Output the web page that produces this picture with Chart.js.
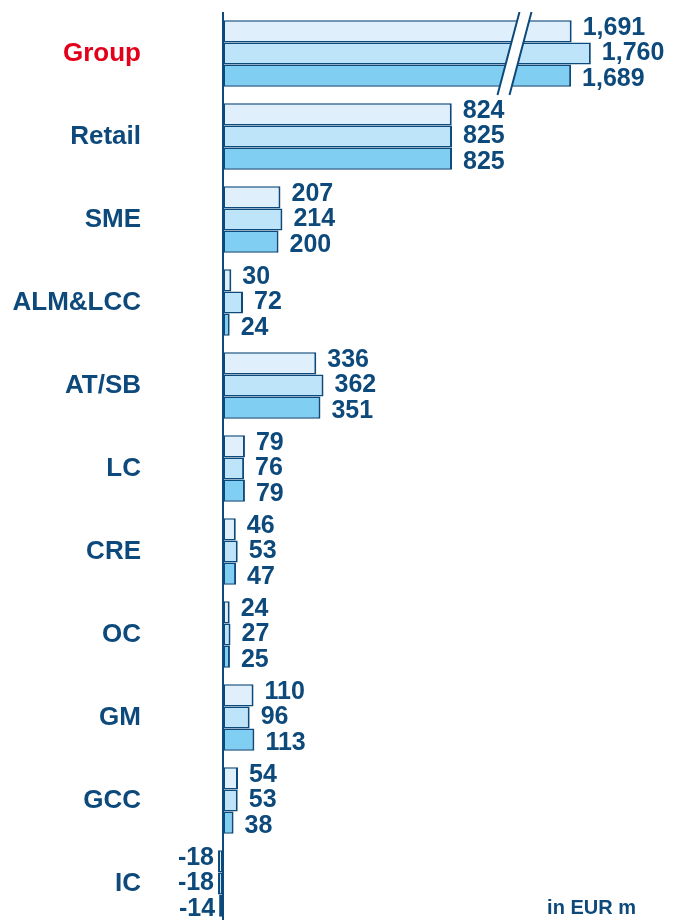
<!DOCTYPE html>
<html>
<head>
<meta charset="utf-8">
<script src="https://cdn.jsdelivr.net/npm/chart.js@4.4.1/dist/chart.umd.min.js"></script>
<style>
  html, body { margin: 0; padding: 0; background: #fff; overflow: hidden; }
  #wrap { position: relative; width: 673px; height: 926px; }
</style>
</head>
<body>
<div id="wrap"><canvas id="chart"></canvas></div>
<script>
const categories = ["Group", "Retail", "SME", "ALM&LCC", "AT/SB", "LC", "CRE", "OC", "GM", "GCC", "IC"];
const series1 = [1691, 824, 207, 30, 336, 79, 46, 24, 110, 54, -18];
const series2 = [1760, 825, 214, 72, 362, 76, 53, 27, 96, 53, -18];
const series3 = [1689, 825, 200, 24, 351, 79, 47, 25, 113, 38, -14];

const NAVY = "#0d4a7b";
const RED = "#e2001a";
const FONT = "'Liberation Sans', Arial, sans-serif";

// axis break: values past BREAK_FROM are pulled left by BREAK_GAP
const BREAK_FROM = 1050;
const BREAK_GAP = 435;

function squeeze(v) {
  if (v <= BREAK_FROM) return v;
  if (v <= BREAK_FROM + BREAK_GAP) return BREAK_FROM;
  return v - BREAK_GAP;
}

class BrokenScale extends Chart.LinearScale {
  getPixelForValue(v) {
    return super.getPixelForValue(squeeze(v));
  }
}
BrokenScale.id = "broken";
BrokenScale.defaults = Chart.LinearScale.defaults;
Chart.register(BrokenScale);

const fmt = (v) => v.toLocaleString("en-US");
const labelShift = [-3, 0, 3];

// zero line, break marks, value labels and unit note
const extras = {
  id: "extras",
  afterDatasetsDraw(chart) {
    const { ctx, scales: { x, y } } = chart;
    const x0 = x.getPixelForValue(0);

    ctx.save();
    ctx.strokeStyle = NAVY;
    ctx.lineWidth = 2;
    ctx.beginPath();
    ctx.moveTo(x0, chart.chartArea.top);
    ctx.lineTo(x0, chart.height);
    ctx.stroke();

    // slanted break across the Group row
    const band = (y.getPixelForValue(1) - y.getPixelForValue(0));
    const top = y.getPixelForValue(0) - band / 2;
    const bot = y.getPixelForValue(0) + band / 2;
    const cx = x.getPixelForValue(BREAK_FROM);
    const slant = 11, half = 6;
    ctx.fillStyle = "#fff";
    ctx.beginPath();
    ctx.moveTo(cx - half + slant, top);
    ctx.lineTo(cx + half + slant, top);
    ctx.lineTo(cx + half - slant, bot);
    ctx.lineTo(cx - half - slant, bot);
    ctx.closePath();
    ctx.fill();
    ctx.lineWidth = 2;
    ctx.beginPath();
    ctx.moveTo(cx - half + slant, top);
    ctx.lineTo(cx - half - slant, bot);
    ctx.moveTo(cx + half + slant, top);
    ctx.lineTo(cx + half - slant, bot);
    ctx.stroke();

    ctx.fillStyle = NAVY;
    ctx.font = "bold 25px " + FONT;
    ctx.textBaseline = "middle";
    chart.data.datasets.forEach((ds, di) => {
      const meta = chart.getDatasetMeta(di);
      meta.data.forEach((bar, i) => {
        const v = ds.data[i];
        const yy = bar.y + labelShift[di];
        if (v < 0) {
          ctx.textAlign = "right";
          ctx.fillText(fmt(v), bar.x - 4, yy);
        } else {
          ctx.textAlign = "left";
          ctx.fillText(fmt(v), bar.x + 11, yy);
        }
      });
    });

    ctx.font = "bold 20px " + FONT;
    ctx.textAlign = "right";
    ctx.textBaseline = "alphabetic";
    ctx.fillText("in EUR m", 636, 914);
    ctx.restore();
  }
};

const barStyle = {
  borderColor: NAVY,
  borderWidth: { left: 2, right: 2, top: 1.5, bottom: 1.5 },
  borderSkipped: false,
  barPercentage: 1.0,
  categoryPercentage: 0.8
};

new Chart(document.getElementById("chart"), {
  type: "bar",
  data: {
    labels: categories,
    datasets: [
      { data: series1, backgroundColor: "#dff0fc", ...barStyle },
      { data: series2, backgroundColor: "#bde4f8", ...barStyle },
      { data: series3, backgroundColor: "#80cff3", ...barStyle }
    ]
  },
  options: {
    indexAxis: "y",
    animation: false,
    responsive: true,
    maintainAspectRatio: false,
    layout: { padding: { top: 12, bottom: 1, left: 0, right: 0 } },
    plugins: {
      legend: { display: false },
      tooltip: { enabled: false }
    },
    scales: {
      x: {
        type: "broken",
        display: false,
        min: -263,
        max: 1621
      },
      y: {
        grid: { display: false, drawTicks: false },
        border: { display: false },
        afterFit: (scale) => {
          scale.width = 150;
          scale.paddingTop = 0;
          scale.paddingBottom = 0;
        },
        ticks: {
          padding: 9,
          font: { family: FONT, size: 26, weight: "bold" },
          color: (c) => c.index === 0 ? RED : NAVY
        }
      }
    }
  },
  plugins: [extras]
});
</script>
</body>
</html>
